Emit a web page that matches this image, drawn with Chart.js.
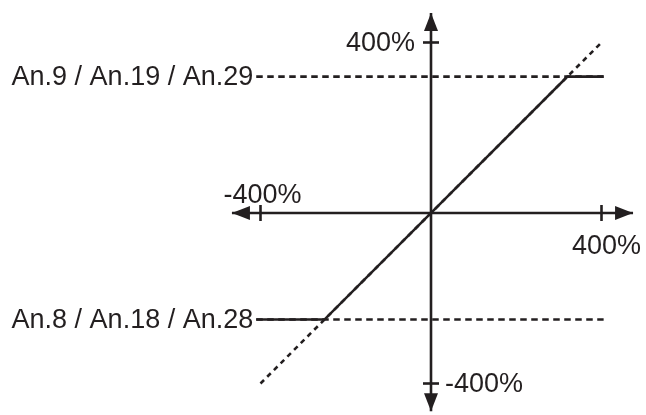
<!DOCTYPE html>
<html><head><meta charset="utf-8">
<script src="https://cdn.jsdelivr.net/npm/chart.js@4.4.0/dist/chart.umd.min.js"></script>
<style>html,body{margin:0;padding:0;background:#fff}#wrap{width:646px;height:415px;position:relative}</style>
</head><body><div id="wrap"><canvas id="c" width="646" height="415"></canvas></div>
<script>
// ---- data ----
const axisXRange = [-467, 474];
const axisYRange = [-465, 469];
const tickValues = [-400, 400];
const tickLabels = ['-400%', '400%'];
const limitLabels = ['An.9 / An.19 / An.29', 'An.8 / An.18 / An.28'];
const limitValues = [320, -250];
const refLineX = [-410, 405];
const idealX = [-400, 400];
const idealY = [-400, 400];
const outputX = [-410, -250, 320, 405];
const outputY = [-250, -250, 320, 320];

const INK = '#231f20';
const FONT = '27px "Liberation Sans", Arial, sans-serif';

const pts = (xs, ys) => xs.map((x, i) => ({x: x, y: ys[i]}));

const datasets = [
  {data: pts(axisXRange, [0, 0]), borderWidth: 2.6},
  {data: pts([0, 0], axisYRange), borderWidth: 2.6},
  {data: pts(idealX, idealY), borderWidth: 2.6, borderDash: [5, 4.5]},
  {data: pts(refLineX, [limitValues[0], limitValues[0]]), borderWidth: 2.6, borderDash: [6.5, 4.5]},
  {data: pts(refLineX, [limitValues[1], limitValues[1]]), borderWidth: 2.6, borderDash: [6.5, 4.5]},
  {data: pts(outputX, outputY), borderWidth: 2.6}
].map(d => Object.assign({showLine: true, borderColor: INK, pointRadius: 0, fill: false, clip: false, tension: 0}, d));

const decor = {
  id: 'decor',
  afterDatasetsDraw(chart) {
    const ctx = chart.ctx, xs = chart.scales.x, ys = chart.scales.y;
    const ox = xs.getPixelForValue(0), oy = ys.getPixelForValue(0);
    ctx.save();
    ctx.fillStyle = INK; ctx.strokeStyle = INK; ctx.lineWidth = 2.6;
    const L = 18, W = 7;
    const tri = (a, b, c) => {ctx.beginPath(); ctx.moveTo(a[0], a[1]); ctx.lineTo(b[0], b[1]); ctx.lineTo(c[0], c[1]); ctx.closePath(); ctx.fill();};
    const xl = xs.getPixelForValue(axisXRange[0]), xr = xs.getPixelForValue(axisXRange[1]);
    const yb = ys.getPixelForValue(axisYRange[0]), yt = ys.getPixelForValue(axisYRange[1]);
    tri([xl, oy], [xl + L, oy - W], [xl + L, oy + W]);
    tri([xr, oy], [xr - L, oy - W], [xr - L, oy + W]);
    tri([ox, yt], [ox - W, yt + L], [ox + W, yt + L]);
    tri([ox, yb], [ox - W, yb - L], [ox + W, yb - L]);
    const T = 8;
    tickValues.forEach(v => {
      const px = xs.getPixelForValue(v), py = ys.getPixelForValue(v);
      ctx.beginPath(); ctx.moveTo(px, oy - T); ctx.lineTo(px, oy + T); ctx.stroke();
      ctx.beginPath(); ctx.moveTo(ox - T, py); ctx.lineTo(ox + T, py); ctx.stroke();
    });
    ctx.font = FONT;
    ctx.textAlign = 'center'; ctx.textBaseline = 'alphabetic';
    ctx.fillText(tickLabels[0], xs.getPixelForValue(tickValues[0]) + 2, oy - 10);
    ctx.fillText(tickLabels[1], xs.getPixelForValue(tickValues[1]) + 5, oy + 41);
    ctx.textBaseline = 'middle';
    ctx.textAlign = 'left';
    ctx.fillText(tickLabels[0], ox + 14, ys.getPixelForValue(tickValues[0]) + 1);
    ctx.textAlign = 'right';
    ctx.fillText(tickLabels[1], ox - 16, ys.getPixelForValue(tickValues[1]) + 1);
    limitLabels.forEach((t, i) => {
      ctx.fillText(t, xs.getPixelForValue(refLineX[0]) - 3, ys.getPixelForValue(limitValues[i]) + 1);
    });
    ctx.restore();
  }
};

new Chart(document.getElementById('c'), {
  type: 'scatter',
  data: {datasets: datasets},
  options: {
    responsive: false,
    animation: false,
    events: [],
    layout: {padding: {left: 226.4, right: 10.4, top: 12.65, bottom: 1.65}},
    plugins: {legend: {display: false}, tooltip: {enabled: false}},
    scales: {
      x: {type: 'linear', display: false, min: -480, max: 480},
      y: {type: 'linear', display: false, min: -470, max: 470}
    }
  },
  plugins: [decor]
});
</script>
</body></html>
